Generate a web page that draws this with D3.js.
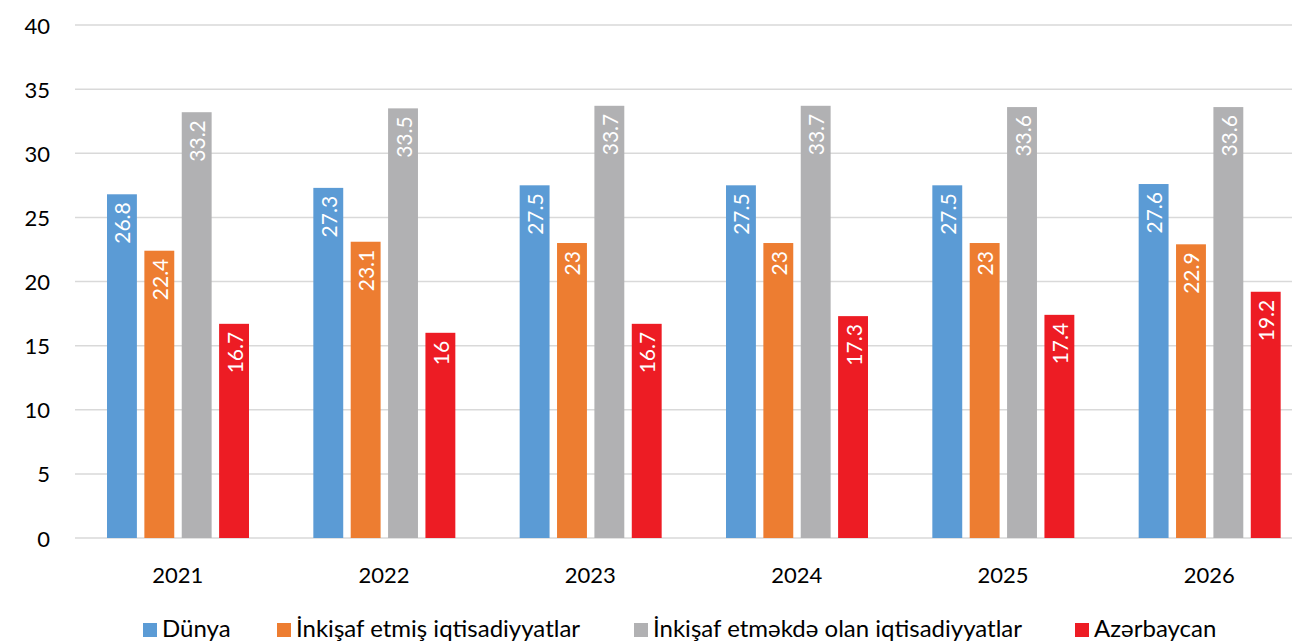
<!DOCTYPE html>
<html><head><meta charset="utf-8">
<script src="https://cdn.jsdelivr.net/npm/d3@7"></script>
<style>body{margin:0;background:#fff;}svg{display:block;font-family:Lato,"Open Sans",sans-serif;}</style>
</head><body>
<svg id="c" width="1292" height="643"></svg>
<script>
const years = ["2021","2022","2023","2024","2025","2026"];
const seriesNames = ["Dünya","İnkişaf etmiş iqtisadiyyatlar","İnkişaf etməkdə olan iqtisadiyyatlar","Azərbaycan"];
const dunya = [26.8,27.3,27.5,27.5,27.5,27.6];
const developed = [22.4,23.1,23,23,23,22.9];
const developing = [33.2,33.5,33.7,33.7,33.6,33.6];
const azerbaijan = [16.7,16,16.7,17.3,17.4,19.2];
const yTicks = [0,5,10,15,20,25,30,35,40];
const colors = ["#5B9BD5","#ED7D31","#B1B1B3","#ED1C24"];

(function(){
const seriesVals = [dunya, developed, developing, azerbaijan];
const svg = d3.select("#c");
const pLeft = 75, pRight = 1313, pTop = 25, pBottom = 538;
const x0 = d3.scaleBand().domain(years).range([pLeft, pRight]).padding(0);
const x1 = d3.scaleBand().domain(d3.range(4)).range([32, 174]).paddingInner(0.2).paddingOuter(0);
const y = d3.scaleLinear().domain([0,40]).range([pBottom, pTop]);

svg.append("g").selectAll("line").data(yTicks).join("line")
  .attr("x1", pLeft).attr("x2", 1292)
  .attr("y1", d=>y(d)).attr("y2", d=>y(d))
  .attr("stroke", "#D9D9D9").attr("stroke-width", 1.5);

svg.append("g").selectAll("text").data(yTicks).join("text")
  .attr("x", 50).attr("y", d=>y(d)).attr("text-anchor","end")
  .attr("dominant-baseline","central").attr("font-size",22).attr("fill","#000")
  .text(d=>d);

svg.append("g").selectAll("text").data(years).join("text")
  .attr("x", d=>x0(d)+x0.bandwidth()/2 - 0.5).attr("y", 574)
  .attr("text-anchor","middle").attr("dominant-baseline","central")
  .attr("font-size",22).attr("fill","#000").text(d=>d);

const data = [];
years.forEach((yr,i)=>seriesVals.forEach((s,j)=>data.push({yr, j, v:s[i]})));
svg.append("g").selectAll("rect").data(data).join("rect")
  .attr("x", d=>x0(d.yr)+x1(d.j)).attr("width", x1.bandwidth())
  .attr("y", d=>y(d.v)).attr("height", d=>y(0)-y(d.v))
  .attr("fill", d=>colors[d.j]);

svg.append("g").selectAll("text").data(data).join("text")
  .attr("transform", d=>`translate(${x0(d.yr)+x1(d.j)+x1.bandwidth()/2},${y(d.v)+8}) rotate(-90)`)
  .attr("text-anchor","end").attr("dominant-baseline","central")
  .attr("font-size",21).attr("fill","#fff").text(d=>d.v);

const legendX = [143, 277, 634, 1075];
const lg = svg.append("g").selectAll("g").data(seriesNames).join("g")
  .attr("transform", (d,i)=>`translate(${legendX[i]},630)`);
lg.append("rect").attr("x",0).attr("y",-7).attr("width",14).attr("height",14).attr("fill",(d,i)=>colors[i]);
lg.append("text").attr("x",19).attr("y",7).attr("dominant-baseline","alphabetic")
  .attr("font-size",24).attr("fill","#000").text(d=>d);
})();
</script>
</body></html>
